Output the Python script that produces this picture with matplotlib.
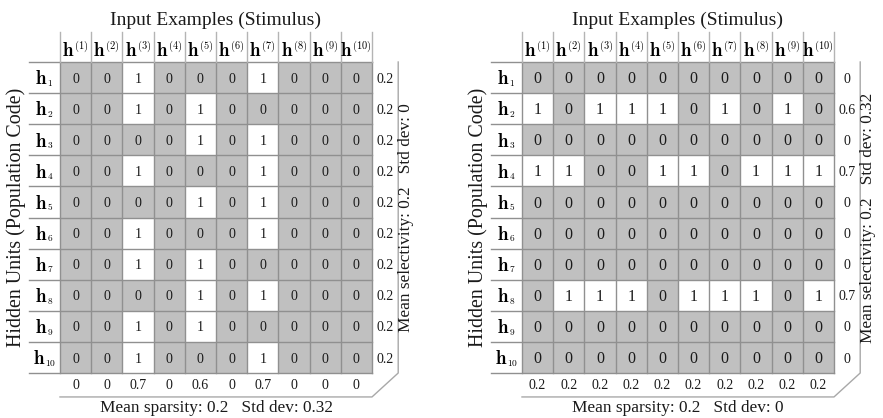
import matplotlib
matplotlib.use("Agg")
import matplotlib.pyplot as plt
from matplotlib.patches import Rectangle
from matplotlib.transforms import offset_copy

plt.rcParams['font.family'] = ['Liberation Serif', 'DejaVu Serif']
plt.rcParams['mathtext.fontset'] = 'cm'

# ---------------- data ----------------
col_sup = ['(1)', '(2)', '(3)', '(4)', '(5)', '(6)', '(7)', '(8)', '(9)', '(10)']
row_sub = ['1', '2', '3', '4', '5', '6', '7', '8', '9', '10']

left_matrix = [
    [0, 0, 1, 0, 0, 0, 1, 0, 0, 0],
    [0, 0, 1, 0, 1, 0, 0, 0, 0, 0],
    [0, 0, 0, 0, 1, 0, 1, 0, 0, 0],
    [0, 0, 1, 0, 0, 0, 1, 0, 0, 0],
    [0, 0, 0, 0, 1, 0, 1, 0, 0, 0],
    [0, 0, 1, 0, 0, 0, 1, 0, 0, 0],
    [0, 0, 1, 0, 1, 0, 0, 0, 0, 0],
    [0, 0, 0, 0, 1, 0, 1, 0, 0, 0],
    [0, 0, 1, 0, 1, 0, 0, 0, 0, 0],
    [0, 0, 1, 0, 0, 0, 1, 0, 0, 0],
]
left_row_stats = [0.2, 0.2, 0.2, 0.2, 0.2, 0.2, 0.2, 0.2, 0.2, 0.2]
left_col_stats = [0, 0, 0.7, 0, 0.6, 0, 0.7, 0, 0, 0]
left_side_text = "Mean selectivity: 0.2   Std dev: 0"
left_bottom_text = "Mean sparsity: 0.2   Std dev: 0.32"

right_matrix = [
    [0, 0, 0, 0, 0, 0, 0, 0, 0, 0],
    [1, 0, 1, 1, 1, 0, 1, 0, 1, 0],
    [0, 0, 0, 0, 0, 0, 0, 0, 0, 0],
    [1, 1, 0, 0, 1, 1, 0, 1, 1, 1],
    [0, 0, 0, 0, 0, 0, 0, 0, 0, 0],
    [0, 0, 0, 0, 0, 0, 0, 0, 0, 0],
    [0, 0, 0, 0, 0, 0, 0, 0, 0, 0],
    [0, 1, 1, 1, 0, 1, 1, 1, 0, 1],
    [0, 0, 0, 0, 0, 0, 0, 0, 0, 0],
    [0, 0, 0, 0, 0, 0, 0, 0, 0, 0],
]
right_row_stats = [0, 0.6, 0, 0.7, 0, 0, 0, 0.7, 0, 0]
right_col_stats = [0.2, 0.2, 0.2, 0.2, 0.2, 0.2, 0.2, 0.2, 0.2, 0.2]
right_side_text = "Mean selectivity: 0.2   Std dev: 0.32"
right_bottom_text = "Mean sparsity: 0.2   Std dev: 0"

title_text = "Input Examples (Stimulus)"
ylabel_text = "Hidden Units (Population Code)"

# ---------------- figure ----------------
W, H = 883, 418
fig = plt.figure(figsize=(W / 100, H / 100), dpi=100)
renderer = fig.canvas.get_renderer()

GRAY = '#c0c0c0'
GRID = '#909090'
LIGHT = '#b4b4b4'
OUTER = '#a8a8a8'
TXT = '#1a1a1a'


def compound_label(ax, xc, ybase, sub, dy, main_fs=13.5, sub_fs=6.8):
    """bold h followed by a small raised/lowered index, centred on xc."""
    t1 = ax.text(xc, ybase, r'$\mathbf{h}$', fontsize=main_fs, ha='left',
                 va='baseline', clip_on=False)
    t2 = ax.text(xc, ybase, r'$%s$' % sub, fontsize=sub_fs, ha='left',
                 va='baseline', clip_on=False)
    w1 = t1.get_window_extent(renderer).width
    w2 = t2.get_window_extent(renderer).width
    total = w1 + w2
    t1.set_transform(offset_copy(ax.transData, fig=fig, x=-total / 2, y=0, units='dots'))
    t2.set_transform(offset_copy(ax.transData, fig=fig, x=-total / 2 + w1 - 0.5, y=dy,
                                 units='dots'))


def draw_panel(x0, matrix, row_stats, col_stats, side_text, bottom_text, cell_fs):
    y0, x1, y1 = 62, x0 + 312, 373
    ax = fig.add_axes([x0 / W, 1 - y1 / H, (x1 - x0) / W, (y1 - y0) / H])
    ax.set_xlim(0, 10)
    ax.set_ylim(10, 0)
    ax.axis('off')
    n = len(matrix)
    m = len(matrix[0])
    for i in range(n):
        for j in range(m):
            v = matrix[i][j]
            ax.add_patch(Rectangle((j, i), 1, 1, facecolor='white' if v else GRAY,
                                   edgecolor='none', zorder=1))
            ax.text(j + 0.5, i + 0.55, '%d' % v, ha='center', va='center',
                    fontsize=cell_fs, color=TXT, zorder=3)
    # grid lines
    for i in range(n + 1):
        ax.plot([-1, m], [i, i], color=GRID, lw=1.0, clip_on=False, zorder=2)
    for j in range(m + 1):
        ax.plot([j, j], [0, n], color=GRID, lw=1.0, clip_on=False, zorder=2)
        ax.plot([j, j], [-0.965, 0], color=LIGHT, lw=1.0, clip_on=False, zorder=2)
    # header and row labels
    for j, s in enumerate(col_sup):
        compound_label(ax, j + 0.5, -0.2, s, dy=7, sub_fs=7.5)
    for i, s in enumerate(row_sub):
        compound_label(ax, -0.5, i + 0.72, s, dy=-1.5)
    # stats
    for i, s in enumerate(row_stats):
        ax.text(10.43, i + 0.55, '%g' % s, ha='center', va='center', fontsize=10,
                color=TXT, clip_on=False)
    for j, s in enumerate(col_stats):
        ax.text(j + 0.5, 10.4, '%g' % s, ha='center', va='center', fontsize=10,
                color=TXT, clip_on=False)
    # outer frame: right vertical, diagonal, bottom
    ax.plot([10.84, 10.84, 10.0, 0], [0, 10.0, 10.77, 10.77], color=OUTER, lw=1.0,
            clip_on=False)
    ax.text(11.1, 5.0, side_text, rotation=90, ha='center', va='center',
            fontsize=12.4, color=TXT, clip_on=False)
    ax.text(5.0, 11.13, bottom_text, ha='center', va='center', fontsize=12.4,
            color=TXT, clip_on=False)
    ax.text(5.0, -1.35, title_text, ha='center', va='center', fontsize=14,
            color=TXT, clip_on=False)
    ax.text(-1.42, 5.0, ylabel_text, rotation=90, ha='center', va='center',
            fontsize=14.4, color=TXT, clip_on=False)
    return ax


draw_panel(60, left_matrix, left_row_stats, left_col_stats, left_side_text,
           left_bottom_text, 10)
draw_panel(522, right_matrix, right_row_stats, right_col_stats, right_side_text,
           right_bottom_text, 11.5)

fig.savefig('out.png', dpi=100)
